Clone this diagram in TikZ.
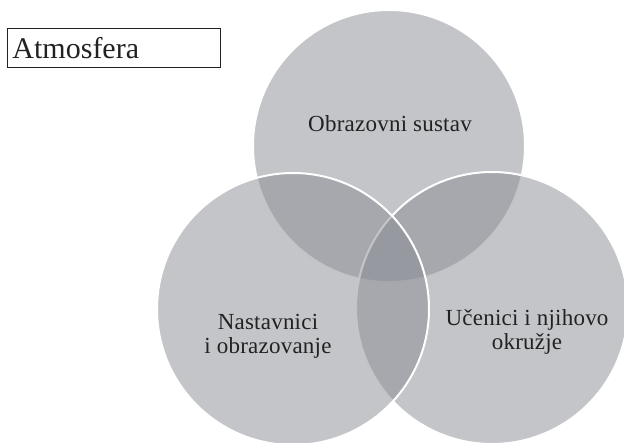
\documentclass[tikz,border=0pt]{standalone}
\usepackage{fontspec}
\setmainfont{Liberation Serif}
\definecolor{vennfill}{RGB}{137,139,147}
\definecolor{inkgray}{RGB}{34,34,34}
\begin{document}
\begin{tikzpicture}[x=1pt, y=-1pt]
\useasboundingbox (0,0) rectangle (624,442);
\clip (0,0) rectangle (624,442);
\tikzset{vennset/.style={circle, inner sep=0pt, minimum size=272pt, fill=vennfill, fill opacity=0.5, draw=white, line width=2pt}}
\tikzset{venntext/.style={text=inkgray, align=center, font=\fontsize{23}{24}\selectfont\addfontfeature{LetterSpace=1}}}

% the three sets, drawn top, right, left
\node[vennset](sustav) at (389,146){};
\node[vennset](ucenici) at (492,308){};
\node[vennset](nastavnici) at (293,309){};

\node[venntext](sustavlabel) at (390,124){Obrazovni sustav};
\node[venntext](nastavnicilabel) at (268,336){Nastavnici\\i obrazovanje};
\node[venntext](ucenicilabel) at (527,332){Učenici i njihovo\\okružje};

\node[rectangle, draw=inkgray, line width=1pt, anchor=north west, minimum width=213pt, minimum height=39pt, text width=203pt, inner sep=5pt, align=left, text=inkgray, font=\fontsize{30}{31}\selectfont](atmosfera) at (7,28){Atmosfera};
\end{tikzpicture}
\end{document}
